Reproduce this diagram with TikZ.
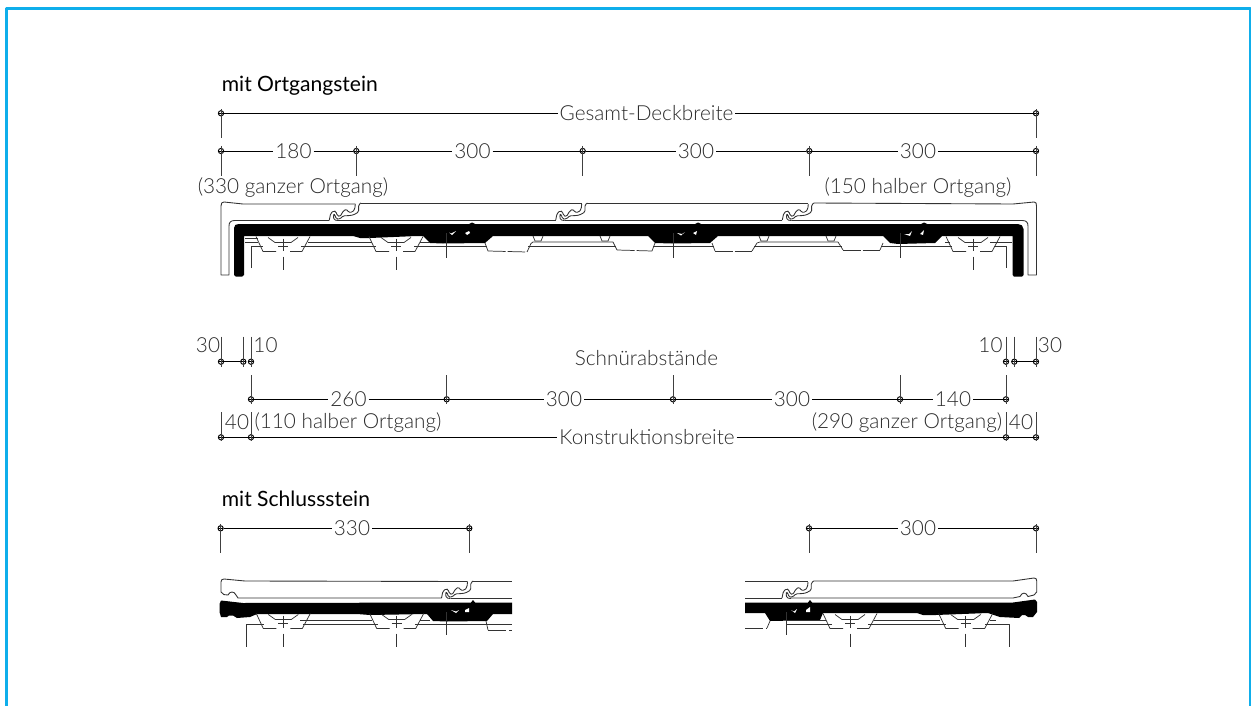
\documentclass[tikz,border=0pt]{standalone}
\usepackage{fontspec}
\setmainfont{Lato Light}
\newfontfamily\headfont{Lato}
\usetikzlibrary{shapes.geometric, arrows}

\definecolor{framecol}{HTML}{0FAEEB}
\definecolor{textcol}{HTML}{2A2A2A}

\tikzset{
    joint/.pic={
        % falz between two tiles
        \draw [tileline, rounded corners=0.8pt] (-27,17) -- (-25.6,10.3) -- (-22.3,7.7) -- (-20.3,8.7) -- (-19,12.7) -- (-16.3,13.7) -- (-13,8) -- (-9.6,6) -- (-8,9.3) -- (-4,9.3) -- (-1.5,6) -- (-1,1);
        \draw [tileline, rounded corners=0.8pt] (4.7,0) -- (2.3,1.7) -- (2.3,9) -- (-3,12) -- (-8,12.7) -- (-13,12.7) -- (-16.3,16) -- (-20,16) -- (-21.6,11.3) -- (-23,12) -- (-22.3,17) -- (-18,17.5);
    },
    support/.pic={
        % batten seat with axis
        \draw [partline] (-27,0) -- (-20,15) -- (-7,15);
        \draw [partline] (27,0) -- (19,15) -- (7,15);
        \draw [partline] (-15,1) -- (-8,6) -- (8,6) -- (15,1);
        \draw [partline] (0,2) -- (0,14);
        \draw [partline] (-5,9.5) -- (5,9.5);
        \draw [partline] (0,20) -- (0,33);
    },
}

\begin{document}
\begin{tikzpicture}[x=0.02cm, y=-0.02cm, line join=round]
    \tikzstyle{dimpt} = [circle, draw=black, line width=0.55pt, inner sep=0pt, minimum size=3pt, path picture={\draw [line width=0.5pt] (path picture bounding box.west) -- (path picture bounding box.east);}]
    \tikzstyle{dimline} = [draw=black, line width=0.5pt]
    \tikzstyle{tick} = [draw=black!75, line width=0.55pt]
    \tikzstyle{dimtext} = [text=textcol, inner sep=1pt, font=\fontsize{11.8}{13}\selectfont]
    \tikzstyle{heading} = [text=black, inner sep=0pt, anchor=west, font=\headfont\fontsize{12}{14}\selectfont]
    \tikzstyle{tileline} = [draw=black!80, line width=0.5pt]
    \tikzstyle{partline} = [draw=black!80, line width=0.42pt]
    \tikzstyle{band} = [fill=black, draw=none]

    \useasboundingbox (0,0) rectangle (1251,706);
    \draw [framecol, line width=1.5pt] (6.3,707) -- (6.3,8.7) -- (1250.4,8.7) -- (1250.4,707);

    \node (title1) [heading] at (221.5,85.5) {mit Ortgangstein};
    \node (title2) [heading] at (221.5,499) {mit Schlussstein};

    % upper dimensions
    \node (gesL) [dimpt] at (221,113.3) {};
    \node (gesT) [dimtext] at (646.5,113.3) {Gesamt-Deckbreite};
    \node (gesR) [dimpt] at (1036,113.3) {};
    \draw [dimline] (gesL) -- (gesT);
    \draw [dimline] (gesT) -- (gesR);
    \draw [tick] (gesL.center) ++(0,-4) -- ++(0,29);
    \draw [tick] (gesR.center) ++(0,-4) -- ++(0,29);

    \node (decA) [dimpt] at (221,151) {};
    \node (decB) [dimpt] at (356.3,151) {};
    \node (decC) [dimpt] at (582.7,151) {};
    \node (decD) [dimpt] at (809.3,151) {};
    \node (decE) [dimpt] at (1036,151) {};
    \node (t180) [dimtext] at (293.5,151) {180};
    \node (t300a) [dimtext] at (472.5,151) {300};
    \node (t300b) [dimtext] at (696,151) {300};
    \node (t300c) [dimtext] at (918,151) {300};
    \draw [dimline] (decA) -- (t180);
    \draw [dimline] (t180) -- (decB);
    \draw [dimline] (decB) -- (t300a);
    \draw [dimline] (t300a) -- (decC);
    \draw [dimline] (decC) -- (t300b);
    \draw [dimline] (t300b) -- (decD);
    \draw [dimline] (decD) -- (t300c);
    \draw [dimline] (t300c) -- (decE);
    \draw [tick] (decA.center) ++(0,-5) -- ++(0,30);
    \draw [tick] (decB.center) ++(0,-5) -- ++(0,30);
    \draw [tick] (decC.center) ++(0,-5) -- ++(0,30);
    \draw [tick] (decD.center) ++(0,-5) -- ++(0,30);
    \draw [tick] (decE.center) ++(0,-5) -- ++(0,30);
    \node (ganz1) [dimtext] at (293,188) {(330 ganzer Ortgang)};
    \node (halb1) [dimtext] at (918,188) {(150 halber Ortgang)};

    % full row of tiles
    \path [band] (234,228) .. controls (234,225) and (236,224) .. (239,224) -- (469,224) -- (472,222.5) -- (475,224) -- (695,224) -- (698,222.5) -- (701,224) -- (921,224) -- (924,222.5) -- (927,224) -- (1018,224) .. controls (1021,224) and (1023.5,226) .. (1023.5,229) -- (1023.5,275) -- (1022,276.7) -- (1014,276.7) -- (1012.7,275) -- (1012.7,236)
        -- (942,236) -- (935,243) -- (898,244) -- (890,243) -- (883,236) -- (877,236) -- (872,236)
        -- (718,236) -- (710,243) -- (672,243.5) -- (655,243) -- (648,236)
        -- (493,236) -- (485,243) -- (443,243.5) -- (430,243) -- (423,236) -- (417,236) -- (370,238) -- (360,238) -- (353,236)
        -- (244,236) -- (244,275) -- (242,276.7) -- (236,276.7) -- (234,275) -- cycle;
    \fill [white] (449,232.5) -- (451,233.5) -- (456,231) -- (452,235) -- cycle;
    \fill [white] (465,233) -- (469,231) -- (470,233) -- (467,235) -- cycle;
    \fill [white] (677,233) -- (682,234) -- (685,232) -- (681,235.5) -- cycle;
    \fill [white] (693,233) -- (697,231) -- (696,235) -- cycle;
    \fill [white] (904,234) -- (909,234) -- (912,231) -- (910,236) -- cycle;
    \fill [white] (920,234) -- (924,230) -- (923,235) -- cycle;

    \draw [tileline] (221,206) .. controls (221,203) and (222,202) .. (224,202) -- (243,204) -- (355.3,204);
    \draw [tileline] (221,206) -- (221,275) -- (229,275) -- (229,226) .. controls (229,222) and (231,220.5) .. (235,220.5) -- (329.3,220.5);
    \draw [tileline] (361,203) -- (581.7,203);
    \draw [tileline] (338.3,220.7) -- (555.7,220.7);
    \draw [tileline] (587.4,203) -- (808.3,203);
    \draw [tileline] (564.7,220.7) -- (782.3,220.7);
    \draw [tileline] (814,203) -- (1013,204) -- (1034,202) .. controls (1036,202) and (1036.5,203) .. (1036.5,206) -- (1036.5,275) -- (1028,275) -- (1028,226) .. controls (1028,222) and (1026,220.5) .. (1022,220.5) -- (791.3,220.5);

    \pic at (356.3,203) {joint};
    \pic at (582.7,203) {joint};
    \pic at (809.3,203) {joint};

    \pic at (283,236.5) {support};
    \pic at (396,236.5) {support};
    \pic at (973,236.5) {support};

    \draw [partline] (245,238.3) -- (258,238.3);
    \draw [partline] (245,242) -- (258,242);
    \draw [partline] (308,242) -- (372,242);
    \draw [partline] (420,242) -- (430,242);
    \draw [partline] (251,268) -- (251,246.7) -- (263,246.7);
    \draw [partline] (301,246.7) -- (376,246.7);
    \draw [partline] (414,246.7) -- (487,246.7);
    \draw [partline] (528,246.7) -- (616,246.7);
    \draw [partline] (653,246.7) -- (714,246.7);
    \draw [partline] (754,246.7) -- (842,246.7);
    \draw [partline] (881,246.7) -- (952,246.7);
    \draw [partline] (994,246.7) -- (1006,246.7) -- (1006,268);
    \draw [partline] (990,242) -- (1012,242);
    \draw [partline] (945,242) -- (950,242);

    % recesses between the battens
    \draw [partline] (485,243) -- (488,251);
    \draw [partline, dash pattern=on 10pt off 1.2pt] (488,251) -- (527,252);
    \draw [partline] (527,252) -- (531,243.5) -- (533,242) -- (613,242) -- (617,250);
    \draw [partline, dash pattern=on 10pt off 1.2pt] (617,250) -- (652,251);
    \draw [partline] (652,251) -- (655,243);
    \draw [partline] (712,243) -- (715,251);
    \draw [partline, dash pattern=on 10pt off 1.2pt] (715,251) -- (752,251);
    \draw [partline] (752,251) -- (757,243) -- (760,242) -- (838,242) -- (843,250);
    \draw [partline, dash pattern=on 10pt off 1.2pt] (843,250) -- (880,250);
    \draw [partline] (880,250) -- (883,243);
    \draw [partline] (533,236) -- (535,241) -- (541,241) -- (543,236);
    \draw [partline] (600,236) -- (602,241) -- (608,241) -- (610,236);
    \draw [partline] (759,236) -- (761,241) -- (767,241) -- (769,236);
    \draw [partline] (826,236) -- (828,241) -- (834,241) -- (836,236);
    \draw [partline] (446.7,233) -- (446.7,257.7);
    \draw [partline] (673,233) -- (673,257.7);
    \draw [partline] (900,233) -- (900,257.7);

    % middle dimensions
    \node (schn) [dimtext] at (646.5,358) {Schnürabstände};
    \node (ra) [dimpt] at (221,361.7) {};
    \node (rb) [dimpt] at (243.3,361.7) {};
    \node (rc) [dimpt] at (251,361.7) {};
    \node (rd) [dimpt] at (1006,361.7) {};
    \node (re) [dimpt] at (1014.3,361.7) {};
    \node (rf) [dimpt] at (1036,361.7) {};
    \draw [dimline] (ra) -- (rb);
    \draw [dimline] (re) -- (rf);
    \draw [tick] (ra.center) ++(0,-25) -- ++(0,30);
    \draw [tick] (rb.center) ++(0,-25) -- ++(0,30);
    \draw [tick] (rc.center) ++(0,-25) -- ++(0,30);
    \draw [tick] (rd.center) ++(0,-25) -- ++(0,30);
    \draw [tick] (re.center) ++(0,-25) -- ++(0,30);
    \draw [tick] (rf.center) ++(0,-25) -- ++(0,30);
    \node (t30a) [dimtext] at (208,345) {30};
    \node (t10a) [dimtext] at (265.5,345) {10};
    \node (t10b) [dimtext] at (990.5,345) {10};
    \node (t30b) [dimtext] at (1050,345) {30};

    \node (sa) [dimpt] at (251,399.3) {};
    \node (sb) [dimpt] at (446.7,399.3) {};
    \node (sc) [dimpt] at (673,399.3) {};
    \node (sd) [dimpt] at (900,399.3) {};
    \node (se) [dimpt] at (1006,399.3) {};
    \node (t260) [dimtext] at (348.5,399.3) {260};
    \node (t300d) [dimtext] at (564,399.3) {300};
    \node (t300e) [dimtext] at (792,399.3) {300};
    \node (t140) [dimtext] at (953,399.3) {140};
    \draw [dimline] (sa) -- (t260);
    \draw [dimline] (t260) -- (sb);
    \draw [dimline] (sb) -- (t300d);
    \draw [dimline] (t300d) -- (sc);
    \draw [dimline] (sc) -- (t300e);
    \draw [dimline] (t300e) -- (sd);
    \draw [dimline] (sd) -- (t140);
    \draw [dimline] (t140) -- (se);
    \draw [tick] (sa.center) ++(0,-24) -- ++(0,29);
    \draw [tick] (sb.center) ++(0,-24) -- ++(0,29);
    \draw [tick] (sc.center) ++(0,-24) -- ++(0,29);
    \draw [tick] (sd.center) ++(0,-24) -- ++(0,29);
    \draw [tick] (se.center) ++(0,-24) -- ++(0,29);

    \node (ka) [dimpt] at (221,437.3) {};
    \node (kb) [dimpt] at (251,437.3) {};
    \node (kT) [dimtext] at (647,437.3) {Konstruktionsbreite};
    \node (kc) [dimpt] at (1006,437.3) {};
    \node (kd) [dimpt] at (1036,437.3) {};
    \draw [dimline] (ka) -- (kb);
    \draw [dimline] (kb) -- (kT);
    \draw [dimline] (kT) -- (kc);
    \draw [dimline] (kc) -- (kd);
    \draw [tick] (ka.center) ++(0,-25) -- ++(0,29);
    \draw [tick] (kb.center) ++(0,-25) -- ++(0,29);
    \draw [tick] (kc.center) ++(0,-25) -- ++(0,29);
    \draw [tick] (kd.center) ++(0,-25) -- ++(0,29);
    \node (t40a) [dimtext] at (237,422.5) {40};
    \node (halb2) [dimtext] at (348,423) {(110 halber Ortgang)};
    \node (ganz2) [dimtext] at (907,423) {(290 ganzer Ortgang)};
    \node (t40b) [dimtext] at (1021,422.5) {40};

    % lower left, Schlussstein
    \node (la) [dimpt] at (220.6,528.3) {};
    \node (t330) [dimtext] at (352,528.3) {330};
    \node (lb) [dimpt] at (469.3,528.3) {};
    \draw [dimline] (la) -- (t330);
    \draw [dimline] (t330) -- (lb);
    \draw [tick] (la.center) ++(0,-4) -- ++(0,29);
    \draw [tick] (lb.center) ++(0,-4) -- ++(0,29);

    \path [band] (219.5,604) -- (221,600.5) -- (243,603) -- (471,602.5) -- (473,600) -- (475,602.5) -- (512,602.5) -- (512,614) -- (493,614) -- (487,621) -- (447,621.5) -- (433,621) -- (427,614) -- (370,615) -- (357,614) -- (257,614) -- (250,617) -- (237,618) -- (233,615.5) -- (229,615.5) -- (227,617) -- (221,617) -- (219.5,612) -- cycle;
    \fill [white] (451,610) -- (456,611.5) -- (459,610) -- (456,613) -- cycle;
    \fill [white] (465,610) -- (469,608) -- (469,612) -- (465,612) -- cycle;
    \draw [tileline] (221,592) -- (221,582) .. controls (221,580) and (222,579) .. (224,579) -- (245,581) -- (467.5,581.5);
    \draw [tileline] (221,592) -- (224,594.6) -- (228,595) .. controls (230,591) and (234,591) .. (236,595) -- (238,598) -- (441.5,598);
    \draw [tileline] (473.2,581) -- (512,581);
    \draw [tileline] (450.5,598.5) -- (512,598.5);
    \pic at (468.5,581) {joint};
    \pic at (283.3,613.5) {support};
    \pic at (396.7,613.5) {support};
    \draw [partline] (300,620) -- (372,620);
    \draw [partline] (246.7,646.7) -- (246.7,624) -- (264,624);
    \draw [partline] (303,624) -- (378,624);
    \draw [partline] (415,624) -- (512,624);
    \draw [partline] (420,620) -- (430,620);
    \draw [partline] (446.7,612) -- (446.7,635);
    \draw [partline] (486,621) -- (488,630);
    \draw [partline, dash pattern=on 10pt off 2pt] (488,630) -- (512,630);

    % lower right, Schlussstein
    \node (ma) [dimpt] at (809,528.3) {};
    \node (t300f) [dimtext] at (918,528.3) {300};
    \node (mb) [dimpt] at (1036,528.3) {};
    \draw [dimline] (ma) -- (t300f);
    \draw [dimline] (t300f) -- (mb);
    \draw [tick] (ma.center) ++(0,-4) -- ++(0,29);
    \draw [tick] (mb.center) ++(0,-4) -- ++(0,29);

    \path [band] (745,602.5) -- (808,602.5) -- (810,600) -- (812,602.5) -- (1013,602.5) -- (1035,599.5) -- (1037,602) -- (1037,612) -- (1033,617) -- (1028,617) -- (1025,615) -- (1022,615) -- (1019,618) -- (1000,617) -- (988,613) -- (936,615) -- (923,615) -- (917,613) -- (823,613) -- (820,620) -- (770,621) -- (765,613) -- (745,613) -- cycle;
    \fill [white] (791,610) -- (794,611.5) -- (797,609) -- (795,613) -- cycle;
    \fill [white] (806,610) -- (810,607) -- (810,612) -- (806,612) -- cycle;
    \draw [tileline] (745,581) -- (808,581);
    \draw [tileline] (745,598) -- (782,598);
    \draw [tileline] (813.7,581) -- (1013,581) -- (1034,578) .. controls (1036,578) and (1036.7,579) .. (1036.7,581) -- (1036.7,592) -- (1034,595) -- (1028,596.5) .. controls (1026,592) and (1022,592) .. (1020,596.5) -- (1013,598) -- (791,598);
    \pic at (809,581) {joint};
    \pic at (850,613.5) {support};
    \pic at (965.7,613.5) {support};
    \draw [partline] (786.7,620) -- (826,620);
    \draw [partline] (874,620) -- (940,620);
    \draw [partline] (990,620) -- (996,620);
    \draw [partline] (786.7,624) -- (832,624);
    \draw [partline] (868,624) -- (946,624);
    \draw [partline] (985,624) -- (1009.3,624) -- (1009.3,646.7);
    \draw [partline] (786.7,612) -- (786.7,635);
    \draw [partline, dash pattern=on 10pt off 2pt] (745,628) -- (767,628);
    \draw [partline] (767,628) -- (770,621);
\end{tikzpicture}
\end{document}
